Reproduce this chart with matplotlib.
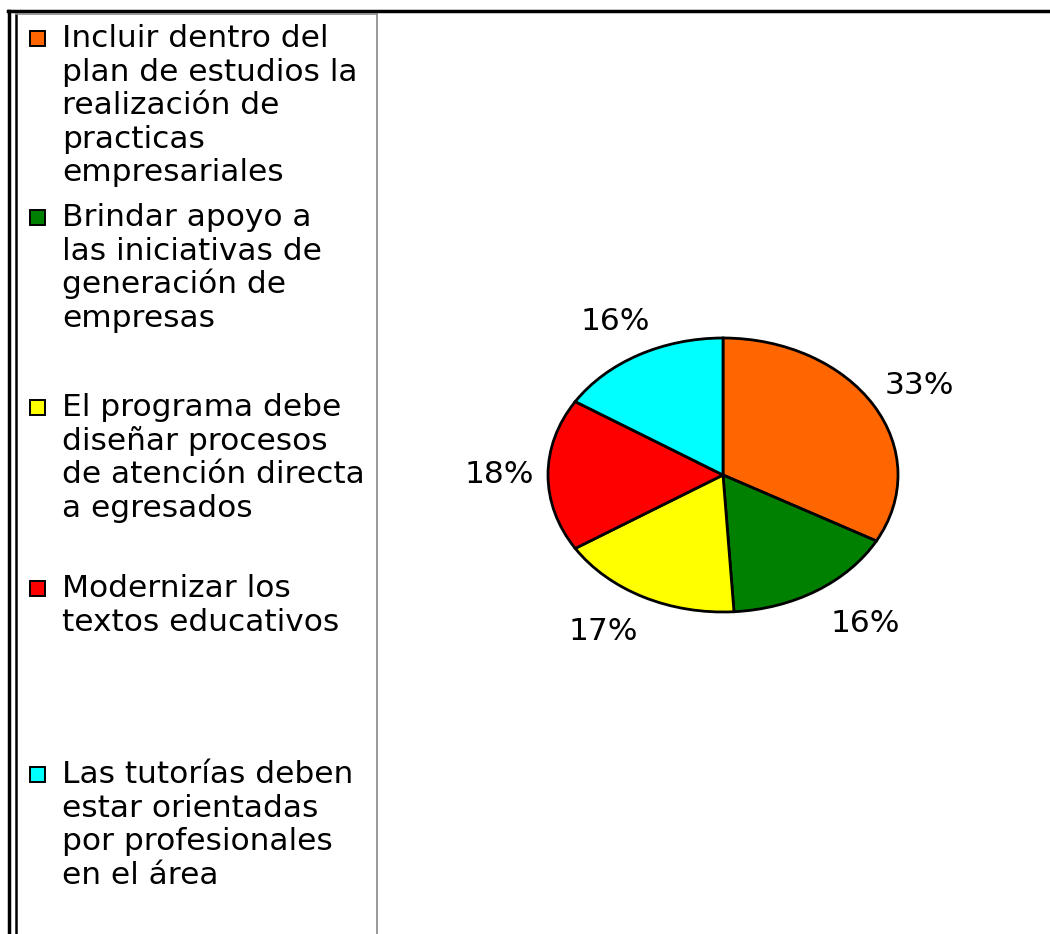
import matplotlib
matplotlib.use("Agg")
import matplotlib.pyplot as plt
from matplotlib.patches import Rectangle
from matplotlib.lines import Line2D

labels = [
    "Incluir dentro del\nplan de estudios la\nrealización de\npracticas\nempresariales",
    "Brindar apoyo a\nlas iniciativas de\ngeneración de\nempresas",
    "El programa debe\ndiseñar procesos\nde atención directa\na egresados",
    "Modernizar los\ntextos educativos",
    "Las tutorías deben\nestar orientadas\npor profesionales\nen el área",
]
values = [33, 16, 17, 18, 16]
colors = ["#FF6600", "#008000", "#FFFF00", "#FF0000", "#00FFFF"]

W, H = 1050, 934
fig = plt.figure(figsize=(W / 100, H / 100), dpi=100)
plt.rcParams['font.family'] = ['DejaVu Sans']

def fx(x):
    return x / W

def fy(y):
    return 1 - y / H

# outer border
fig.add_artist(Line2D([fx(9), fx(9)], [fy(11), fy(940)], color="black", lw=2.5))
fig.add_artist(Line2D([fx(8), fx(1052)], [fy(11), fy(11)], color="black", lw=2.5))
# legend box
fig.add_artist(Line2D([fx(16), fx(16)], [fy(14), fy(940)], color="black", lw=1.8))
fig.add_artist(Line2D([fx(16), fx(377)], [fy(14), fy(14)], color="#888888", lw=1.2))
fig.add_artist(Line2D([fx(377), fx(377)], [fy(14), fy(940)], color="#888888", lw=1.2))

# pie
cx, cy, rx, ry = 723, 475, 175, 137
ax = fig.add_axes([fx(cx - rx), fy(cy + ry), 2 * rx / W, 2 * ry / H])
wedges, texts, autotexts = ax.pie(
    values, colors=colors, startangle=90, counterclock=False,
    autopct=lambda p: f"{p:.0f}%", pctdistance=1.28,
    wedgeprops=dict(edgecolor="black", linewidth=2.0),
    textprops=dict(fontsize=22.5, color="black"))
# nudge the lower labels outward like the original
shifts = [(0.02, 0), (0.13, 0), (-0.10, 0), (0, 0), (0, 0)]
for t, (dx, dy) in zip(autotexts, shifts):
    x, y = t.get_position()
    t.set_position((x + dx, y + dy))
ax.set_aspect("auto")
ax.set_xlim(-1, 1)
ax.set_ylim(-1, 1)
ax.axis("off")

# legend entries
baselines = [47, 226, 416, 597, 783]
line_h = 33.6
for lab, col, by in zip(labels, colors, baselines):
    fig.add_artist(Rectangle((fx(30), fy(by - 1)), 15 / W, 15 / H,
                             facecolor=col, edgecolor="black", lw=1.4))
    for i, line in enumerate(lab.split("\n")):
        fig.text(fx(62), fy(by + i * line_h), line, fontsize=22.5,
                 va="baseline", ha="left")

fig.savefig("out.png", dpi=100)
